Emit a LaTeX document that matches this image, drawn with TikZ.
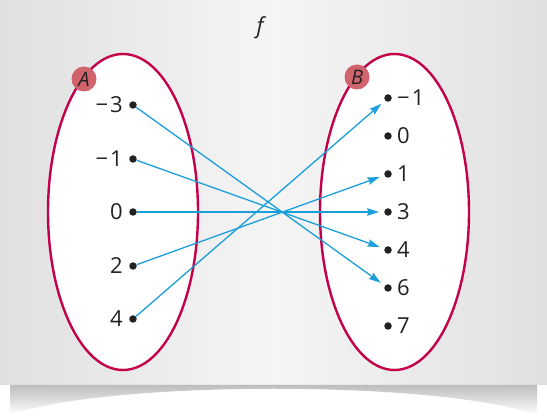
\documentclass[tikz,border=0pt]{standalone}
\usepackage{fontspec}
\setmainfont{Open Sans}
\usetikzlibrary{arrows.meta,shapes.geometric}
\definecolor{panelEdge}{HTML}{E0E0E0}
\definecolor{panelMid}{HTML}{F5F5F5}
\definecolor{setred}{HTML}{C4004A}
\definecolor{tagred}{HTML}{D0636C}
\definecolor{arrowblue}{HTML}{1A9FDB}
\definecolor{ink}{HTML}{222222}
\begin{document}
\begin{tikzpicture}[x=1pt,y=-1pt,
  setshape/.style={ellipse, draw=setred, line width=2.4pt, fill=white, inner sep=0pt},
  tag/.style={circle, fill=tagred, minimum size=25pt, inner sep=0pt, text=ink, font=\fontsize{20}{20}\selectfont\itshape},
  elem/.style={circle, fill=ink, minimum size=7.5pt, inner sep=0pt},
  lbl/.style={text=ink, font=\fontsize{22}{22}\selectfont, inner sep=0pt},
  maparrow/.style={draw=arrowblue, line width=1.3pt, -{Stealth[length=12pt,width=7.5pt,inset=1.5pt]}, shorten >=5pt}
]
\useasboundingbox (0,0) rectangle (547,419);
\fill[white] (0,0) rectangle (547,419);
\shade[left color=panelEdge, right color=panelEdge, middle color=panelMid] (0,0) rectangle (547,385);
% shadow under panel
\shade[top color=black!30, bottom color=white] (10,385) -- (537,385) -- (537,415) .. controls (440,380) and (107,380) .. (10,415) -- cycle;

\node[lbl, font=\fontsize{22}{22}\selectfont\itshape] (title) at (260,28) {f};

\node[setshape, minimum width=150pt, minimum height=316pt] (setA) at (123,212) {};
\node[setshape, minimum width=149pt, minimum height=316pt] (setB) at (394.5,212) {};

\node[tag] (tagA) at (84,79) {A};
\node[tag] (tagB) at (357,77) {B};

% left elements
\node[elem] (am3) at (133,105) {};
\node[elem] (am1) at (133,159) {};
\node[elem] (a0) at (133,212) {};
\node[elem] (a2) at (133,266) {};
\node[elem] (a4) at (133,319) {};
\node[lbl, anchor=east] at ([xshift=-10pt]am3.center) {−\kern2pt3};
\node[lbl, anchor=east] at ([xshift=-10pt]am1.center) {−\kern2pt1};
\node[lbl, anchor=east] at ([xshift=-10pt]a0.center) {0};
\node[lbl, anchor=east] at ([xshift=-10pt]a2.center) {2};
\node[lbl, anchor=east] at ([xshift=-10pt]a4.center) {4};

% right elements
\node[elem] (bm1) at (388,98) {};
\node[elem] (b0) at (388,136) {};
\node[elem] (b1) at (388,174) {};
\node[elem] (b3) at (388,212) {};
\node[elem] (b4) at (388,250) {};
\node[elem] (b6) at (388,288) {};
\node[elem] (b7) at (388,326) {};
\node[lbl, anchor=west] at ([xshift=9pt]bm1.center) {−\kern2pt1};
\node[lbl, anchor=west] at ([xshift=9pt]b0.center) {0};
\node[lbl, anchor=west] at ([xshift=9pt]b1.center) {1};
\node[lbl, anchor=west] at ([xshift=9pt]b3.center) {3};
\node[lbl, anchor=west] at ([xshift=9pt]b4.center) {4};
\node[lbl, anchor=west] at ([xshift=9pt]b6.center) {6};
\node[lbl, anchor=west] at ([xshift=9pt]b7.center) {7};

% mapping
\draw[maparrow] (am3) -- (b6);
\draw[maparrow] (am1) -- (b4);
\draw[maparrow] (a0) -- (b3);
\draw[maparrow] (a2) -- (b1);
\draw[maparrow] (a4) -- (bm1);
\end{tikzpicture}
\end{document}
